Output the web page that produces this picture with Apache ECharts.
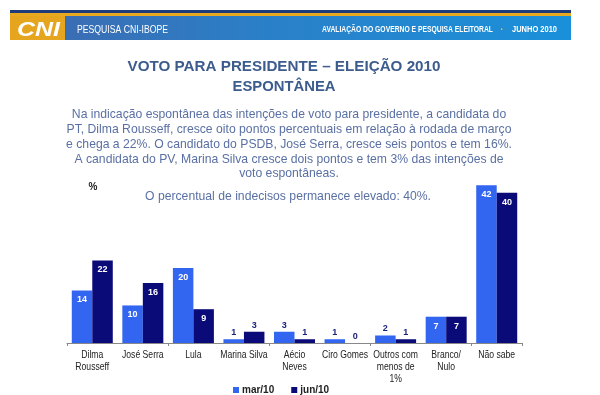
<!DOCTYPE html>
<html><head><meta charset="utf-8">
<script src="https://cdn.jsdelivr.net/npm/echarts@6/dist/echarts.min.js"></script>
<style>html,body{margin:0;padding:0;background:#fff}#c{width:600px;height:395px}</style>
</head><body><div id="c"></div>
<script>
const categories = ['Dilma\nRousseff','José Serra','Lula','Marina Silva','Aécio\nNeves','Ciro Gomes','Outros com\nmenos de\n1%','Branco/\nNulo','Não sabe'];
const seriesNames = ['mar/10','jun/10'];
const mar10 = [14,10,20,1,3,1,2,7,42];
const jun10 = [22,16,9,3,1,0,1,7,40];
const paragraph = [
 'Na indicação espontânea das intenções de voto para presidente, a candidata do',
 'PT, Dilma Rousseff, cresce oito pontos percentuais em relação à rodada de março',
 'e chega a 22%. O candidato do PSDB, José Serra, cresce seis pontos e tem 16%.',
 'A candidata do PV, Marina Silva cresce dois pontos e tem 3% das intenções de',
 'voto espontâneas.'
];
const colors = ['#3366f0','#0a0a78'];

function mk(vals){
  return vals.map(v => ({
    value: v,
    label: v >= 5
      ? {position:'insideTop', distance:5, color:'#ffffff'}
      : {position:'top', distance:2, color:'#1a237e'}
  }));
}

const ctx = document.createElement('canvas').getContext('2d');
function fitScale(text, fontStr, target){ ctx.font = fontStr; return target / ctx.measureText(text).width; }

const chart = echarts.init(document.getElementById('c'));
const font = '"Liberation Sans", Arial, sans-serif';
function fitText(x, y, text, fontStr, fill, target, align){
  const s = fitScale(text, fontStr, target);
  return {type:'text', x:x, y:y, scaleX:s, style:{text:text, font:fontStr, fill:fill, textAlign:align||'left', textVerticalAlign:'middle'}};
}
const hdrR = 'bold 9px '+font;
const graphics = [
  {type:'rect', shape:{x:10,y:10,width:561,height:3}, style:{fill:'#1f3c78'}},
  {type:'rect', shape:{x:10,y:13,width:561,height:3}, style:{fill:'#e8a820'}},
  {type:'rect', shape:{x:65,y:16,width:506,height:24}, style:{fill:new echarts.graphic.LinearGradient(0,0,1,0,[{offset:0,color:'#3a6db4'},{offset:0.4,color:'#2a80c8'},{offset:1,color:'#1a90da'}])}},
  {type:'rect', shape:{x:10,y:16,width:55,height:24}, style:{fill:'#e6a51e'}},
  fitText(17, 30, 'CNI', 'italic bold 20px '+font, '#ffffff', 43),
  fitText(77, 30, 'PESQUISA CNI-IBOPE', '11px '+font, '#ffffff', 91),
  fitText(322, 30, 'AVALIAÇÃO DO GOVERNO E PESQUISA ELEITORAL', hdrR, '#ffffff', 171),
  {type:'text', x:502, y:30, style:{text:'·', font:'bold 10px '+font, fill:'#f2b531', textAlign:'center', textVerticalAlign:'middle'}},
  fitText(512, 30, 'JUNHO 2010', hdrR, '#ffffff', 45),
  fitText(284, 67, 'VOTO PARA PRESIDENTE – ELEIÇÃO 2010', 'bold 15.5px '+font, '#3c5c8e', 313, 'center'),
  fitText(284, 87, 'ESPONTÂNEA', 'bold 15.5px '+font, '#3c5c8e', 103, 'center'),
  {type:'text', x:93, y:187, style:{text:'%', font:'bold 10px '+font, fill:'#222222', textAlign:'center', textVerticalAlign:'middle'}},
  {type:'text', x:288, y:197, style:{text:'O percentual de indecisos permanece elevado: 40%.', font:'12.2px '+font, fill:'#5a70a4', textAlign:'center', textVerticalAlign:'middle'}}
];
const lineY = [115,130,145,160,174];
paragraph.forEach((t,i)=>graphics.push({type:'text', x:289, y:lineY[i], style:{text:t, font:'12.2px '+font, fill:'#5a70a4', textAlign:'center', textVerticalAlign:'middle'}}));

const option = {
  animation:false,
  color: colors,
  graphic: graphics,
  legend: {
    data: seriesNames, left: 228, top: 380, itemWidth:6, itemHeight:6, itemGap:17,
    icon:'rect',
    textStyle:{fontFamily:font, fontSize:10, fontWeight:'bold', color:'#222', padding:[0,0,0,-2]}
  },
  grid: {left:67, right:78, top:174, bottom:52},
  xAxis: {
    type:'category', data: categories,
    axisLine:{lineStyle:{color:'#888888'}},
    axisTick:{show:true, length:3, lineStyle:{color:'#888888'}},
    axisLabel:{show:false}
  },
  yAxis: {type:'value', min:0, max:45, show:false, splitLine:{show:false}},
  series: [
    {name:seriesNames[0], type:'bar', data:mk(mar10), barWidth:20.5, barGap:'0%',
     label:{show:true, fontFamily:font, fontSize:9, fontWeight:'bold'}},
    {name:seriesNames[1], type:'bar', data:mk(jun10), barWidth:20.5, barGap:'0%',
     label:{show:true, fontFamily:font, fontSize:9, fontWeight:'bold'}}
  ]
};
chart.setOption(option);

// Category labels placed at positions given by the library's category axis (condensed text)
const axisY = chart.convertToPixel({yAxisIndex:0}, 0);
const catLabels = categories.map((c, i) => {
  const x = chart.convertToPixel({xAxisIndex:0}, i);
  return {type:'text', x:x, y:axisY + 6, scaleX:0.82,
    style:{text:c, font:'10.5px '+font, fill:'#222222', textAlign:'center', textVerticalAlign:'top', lineHeight:12}};
});
chart.setOption({graphic: graphics.concat(catLabels)});
</script></body></html>
